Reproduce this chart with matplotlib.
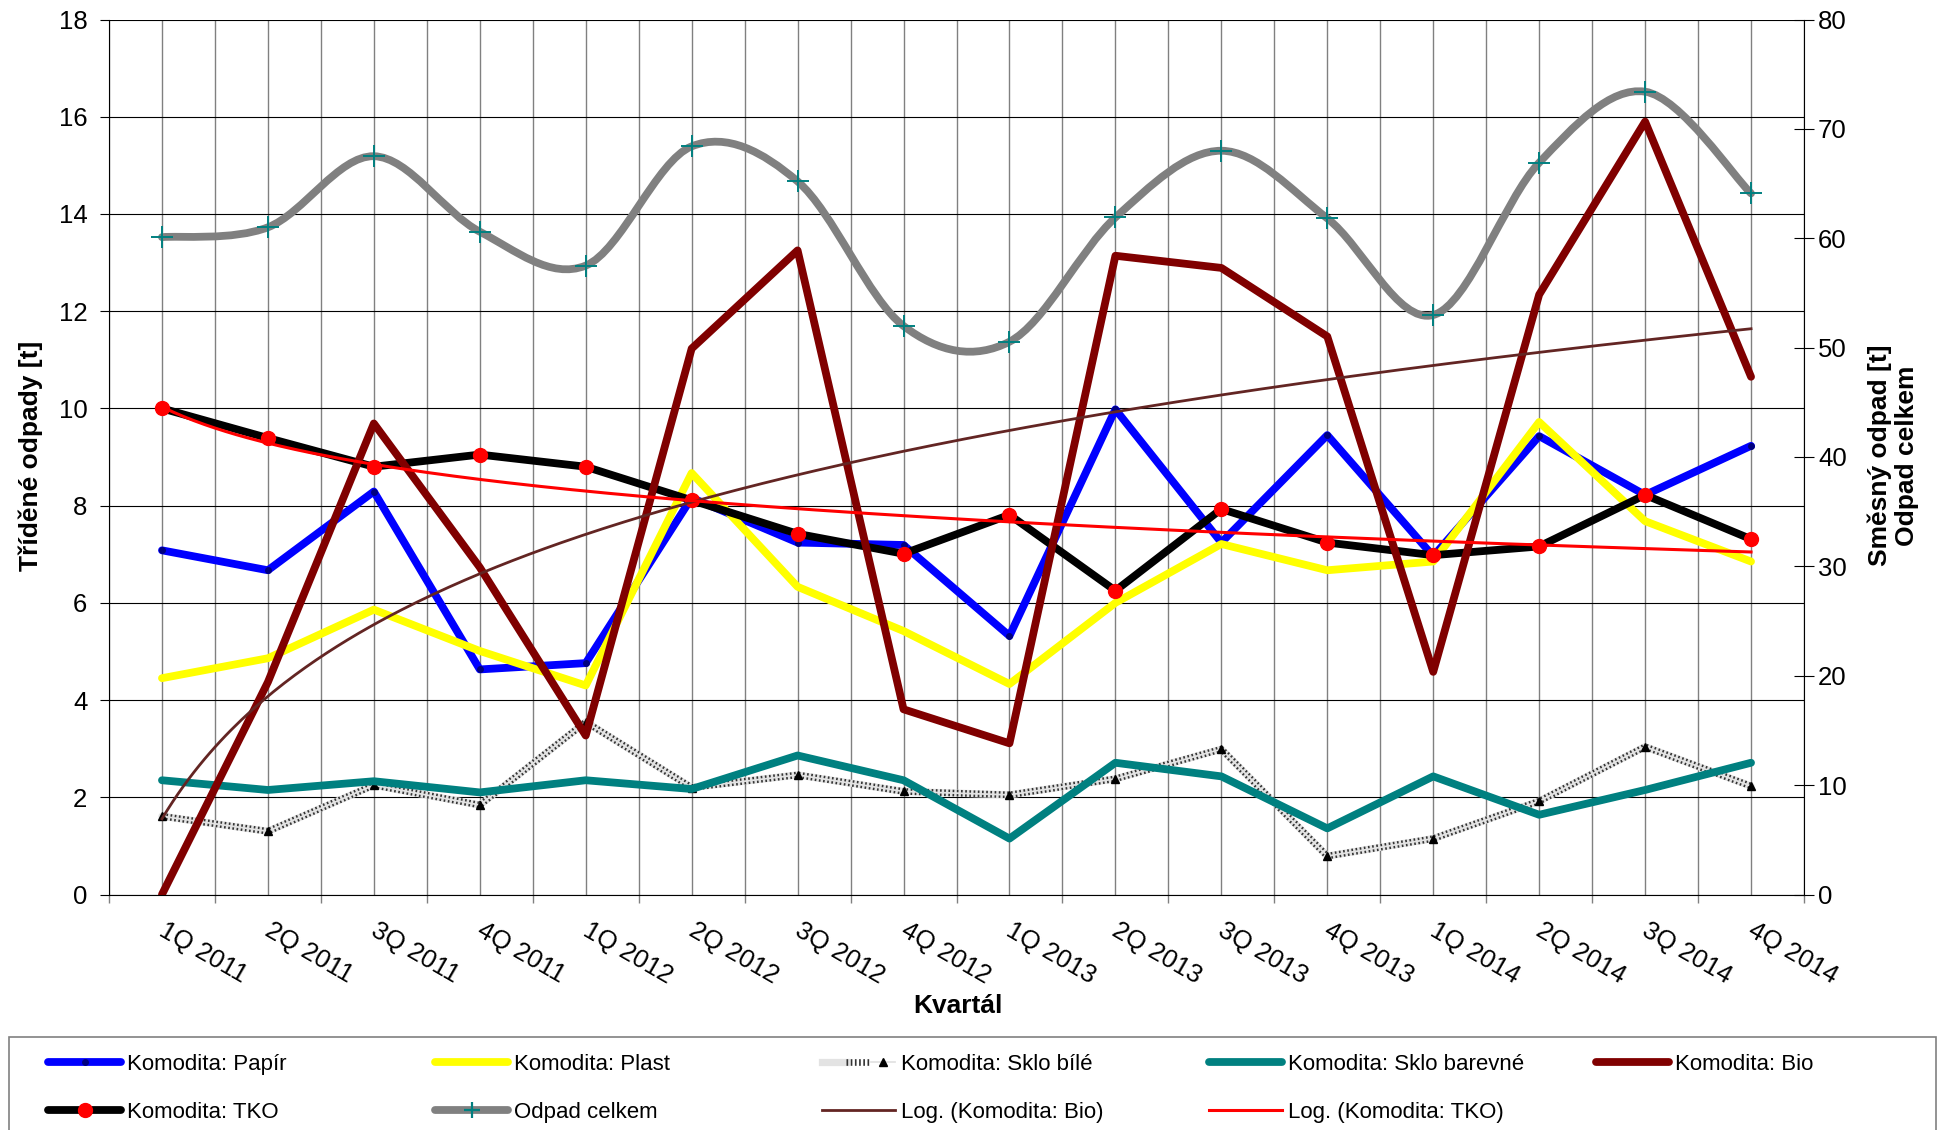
import numpy as np
import matplotlib
matplotlib.use("Agg")
import matplotlib.pyplot as plt
from matplotlib.path import Path
from matplotlib.patches import PathPatch, Rectangle
from matplotlib.lines import Line2D
from matplotlib.legend_handler import HandlerTuple
from matplotlib.transforms import ScaledTranslation

plt.rcParams['font.family'] = ['Liberation Sans', 'DejaVu Sans']

# data (t) per quarter
kvartaly = ['1Q 2011', '2Q 2011', '3Q 2011', '4Q 2011',
            '1Q 2012', '2Q 2012', '3Q 2012', '4Q 2012',
            '1Q 2013', '2Q 2013', '3Q 2013', '4Q 2013',
            '1Q 2014', '2Q 2014', '3Q 2014', '4Q 2014']
papir = [7.08, 6.67, 8.29, 4.63, 4.76, 8.16, 7.24, 7.19,
         5.32, 9.98, 7.24, 9.45, 6.96, 9.43, 8.22, 9.23]
plast = [4.45, 4.86, 5.86, 5.01, 4.30, 8.67, 6.33, 5.42,
         4.33, 6.00, 7.21, 6.67, 6.85, 9.72, 7.68, 6.85]
sklo_bile = [1.61, 1.30, 2.25, 1.84, 3.55, 2.20, 2.46, 2.12,
             2.05, 2.38, 2.99, 0.79, 1.15, 1.92, 3.04, 2.23]
sklo_barevne = [2.35, 2.15, 2.33, 2.10, 2.35, 2.17, 2.86, 2.35,
                1.15, 2.71, 2.43, 1.36, 2.43, 1.64, 2.15, 2.71]
bio = [0.0, 4.37, 9.69, 6.73, 3.27, 11.23, 13.25, 3.81,
       3.11, 13.14, 12.89, 11.48, 4.58, 12.34, 15.90, 10.65]
tko = [10.0, 9.39, 8.80, 9.05, 8.80, 8.11, 7.42, 7.01,
       7.81, 6.25, 7.93, 7.24, 6.98, 7.16, 8.22, 7.31]
# right axis
odpad_celkem = [60.1, 61.0, 67.5, 60.6, 57.5, 68.4, 65.2, 51.98,
                50.54, 61.9, 68.0, 61.82, 52.98, 66.91, 73.4, 64.1]

LW = 5.6
x = np.arange(len(kvartaly))

fig = plt.figure(figsize=(19.48, 11.30), dpi=100)
ax = fig.add_axes([109 / 1948, 1 - 894.5 / 1130, 1695 / 1948, 875 / 1130])
ax2 = ax.twinx()

round_kw = dict(solid_capstyle='round', solid_joinstyle='round')

h_papir, = ax.plot(x, papir, color='#0000FF', lw=LW, marker='o', ms=4,
                   mfc='#000080', mec='#000080', zorder=3, **round_kw)
h_plast, = ax.plot(x, plast, color='#FFFF00', lw=LW, zorder=3, **round_kw)
# patterned line: light band, dark dots, light centre split
sb_band = dict(color='#e3e3e3', lw=5.2)
sb_dots = dict(color='#333333', lw=4.8, ls=(0, (0.25, 0.38)), dash_capstyle='butt')
sb_mid = dict(color='#e3e3e3', lw=1.3)
ax.plot(x, sklo_bile, zorder=3, **sb_band, **round_kw)
ax.plot(x, sklo_bile, zorder=3, **sb_dots)
ax.plot(x, sklo_bile, zorder=3, **sb_mid)
ax.plot(x, sklo_bile, ls='none', marker='^', ms=5.5, mfc='black', mec='black', zorder=3)
h_sklo_bile = (Line2D([], [], **sb_band), Line2D([], [], **sb_dots),
               Line2D([], [], marker='^', ms=5.5, mfc='black', mec='black', **sb_mid))
h_sbar, = ax.plot(x, sklo_barevne, color='#008080', lw=LW, zorder=3, **round_kw)
h_tko, = ax.plot(x, tko, color='black', lw=LW, marker='o', ms=10,
                 mfc='#FF0000', mec='#FF0000', zorder=3, **round_kw)
h_bio, = ax.plot(x, bio, color='#800000', lw=LW, zorder=3, **round_kw)

# logarithmic trendlines
xi = x + 1
xx = np.linspace(1, len(x), 300)
a_bio, b_bio = np.polyfit(np.log(xi), bio, 1)
a_tko, b_tko = np.polyfit(np.log(xi), tko, 1)
h_logbio, = ax.plot(xx - 1, a_bio * np.log(xx) + b_bio, color='#632523', lw=2.0, zorder=4)
h_logtko, = ax.plot(xx - 1, a_tko * np.log(xx) + b_tko, color='#FF0000', lw=2.2, zorder=4)

# smoothed total (Excel-like bezier smoothing)
n = len(x)
verts = [(x[0], odpad_celkem[0])]
codes = [Path.MOVETO]
for i in range(n - 1):
    p0 = (x[i - 1], odpad_celkem[i - 1]) if i > 0 else (x[i], odpad_celkem[i])
    p1 = (x[i], odpad_celkem[i])
    p2 = (x[i + 1], odpad_celkem[i + 1])
    p3 = (x[i + 2], odpad_celkem[i + 2]) if i + 2 < n else p2
    c1 = (p1[0] + (p2[0] - p0[0]) / 6, p1[1] + (p2[1] - p0[1]) / 6)
    c2 = (p2[0] - (p3[0] - p1[0]) / 6, p2[1] - (p3[1] - p1[1]) / 6)
    verts += [c1, c2, p2]
    codes += [Path.CURVE4] * 3
ax2.add_patch(PathPatch(Path(verts, codes), facecolor='none', edgecolor='#808080',
                        lw=LW, capstyle='round', joinstyle='round'))
ax2.plot(x, odpad_celkem, ls='none', marker='+', ms=16, mew=1.4, color='#008080')
h_odpad = Line2D([], [], color='#808080', lw=LW, marker='+', ms=12, mew=1.6,
                 mec='#008080', solid_capstyle='round')

# axes
ax.set_xlim(-0.5, len(x) - 0.5)
ax.set_ylim(0, 18)
ax2.set_ylim(0, 80)
ax.set_yticks(np.arange(0, 19, 2))
ax2.set_yticks(np.arange(0, 81, 10))
ax.set_xticks(x)
ax.set_xticks(np.arange(-0.5, len(x), 1), minor=True)
ax.set_xticklabels([])
lab_tr = ax.get_xaxis_transform() + ScaledTranslation(5 / 100, -24 / 100, fig.dpi_scale_trans)
for xv, lab in zip(x, kvartaly):
    ax.text(xv, 0, lab, transform=lab_tr, rotation=-30, ha='left', va='top',
            rotation_mode='anchor', fontsize=18.5, clip_on=False)

ax.grid(axis='y', color='black', lw=0.8)
ax.grid(axis='x', which='both', color='#808080', lw=1.0)
ax.set_axisbelow(True)

ax.tick_params(axis='y', labelsize=18.5, length=6.5, width=0.8, pad=9)
ax.tick_params(axis='x', which='major', length=0)
ax.tick_params(axis='x', which='minor', length=6, width=1.0, color='#808080')
ax2.tick_params(axis='y', labelsize=18.5, length=14, width=0.8, direction='inout', pad=3)

for s in ['top', 'right']:
    ax.spines[s].set_visible(False)
for s in ['top', 'left', 'bottom']:
    ax2.spines[s].set_visible(False)
ax.spines['left'].set_linewidth(0.8)
ax.spines['bottom'].set_linewidth(0.8)
ax2.spines['right'].set_linewidth(0.8)

fig.text(0.016, 0.597, 'Tříděné odpady [t]', rotation=90, ha='center', va='center',
         fontsize=19, fontweight='bold')
fig.text(0.972, 0.597, 'Směsný odpad [t]\nOdpad celkem', rotation=90, ha='center',
         va='center', fontsize=19, fontweight='bold', linespacing=1.15)
fig.text(0.492, 0.110, 'Kvartál', ha='center', va='center', fontsize=19,
         fontweight='bold')

# legend: five equally spaced columns in one frame
fig.patches.append(Rectangle((9 / 1948, -0.01), 1927 / 1948, (1130 - 1037) / 1130 + 0.01,
                             transform=fig.transFigure, facecolor='white',
                             edgecolor='#808080', lw=1.2))
columns = [
    ([h_papir, h_tko], ['Komodita: Papír', 'Komodita: TKO']),
    ([h_plast, h_odpad], ['Komodita: Plast', 'Odpad celkem']),
    ([h_sklo_bile, h_logbio], ['Komodita: Sklo bílé', 'Log. (Komodita: Bio)']),
    ([h_sbar, h_logtko], ['Komodita: Sklo barevné', 'Log. (Komodita: TKO)']),
    ([h_bio], ['Komodita: Bio']),
]
col_x = [48, 435, 822, 1209, 1596]
for (hs, ls), cx in zip(columns, col_x):
    fig.legend(hs, ls, loc='upper left', bbox_to_anchor=(cx / 1948, 1 - 1054 / 1130),
               frameon=False, fontsize=16, handlelength=3.3, handletextpad=0.25,
               borderpad=0, borderaxespad=0, labelspacing=1.22,
               handler_map={tuple: HandlerTuple(ndivide=None)})

fig.savefig('out.png', dpi=100)
